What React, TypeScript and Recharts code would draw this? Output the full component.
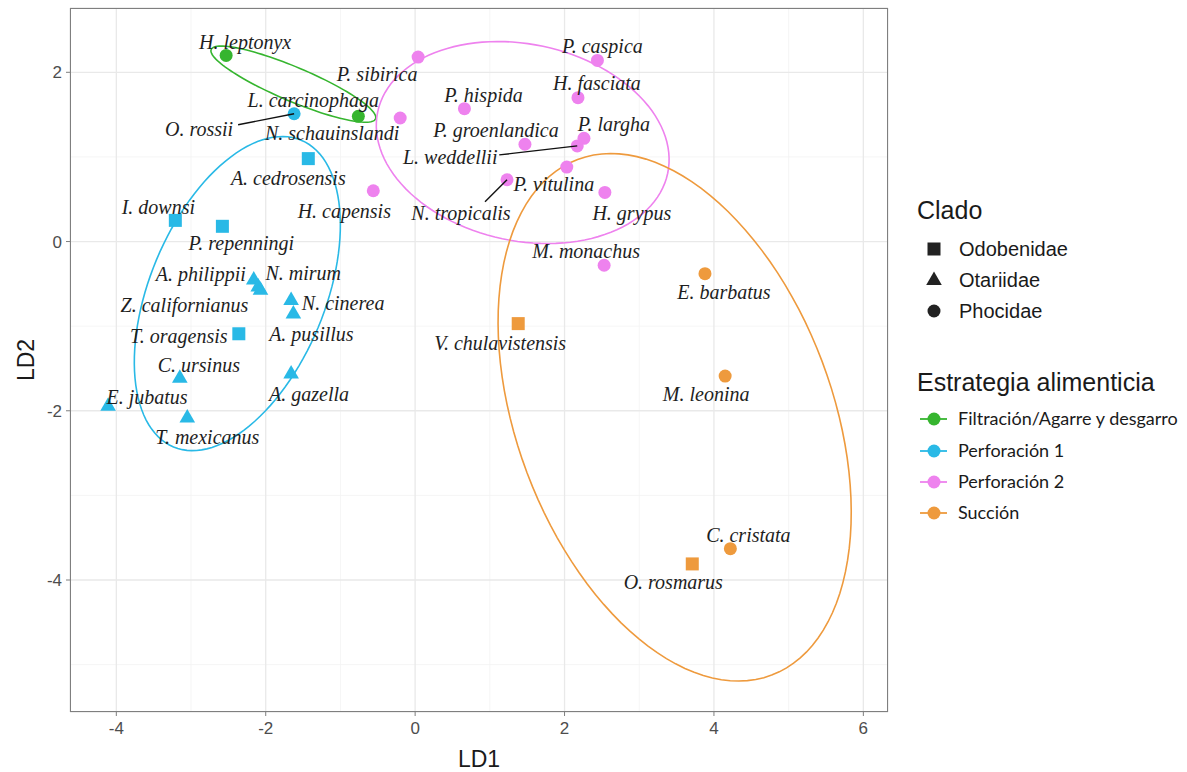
import { ScatterChart, Scatter, XAxis, YAxis, CartesianGrid } from 'recharts';

type Clado = 'Odobenidae' | 'Otariidae' | 'Phocidae';

interface Especie {
  name: string,
  ld1: number,
  ld2: number,
  clado: Clado
}

// Puntuaciones discriminantes por estrategia alimenticia
const filtracion: Especie[] = [
  { name: 'H. leptonyx', ld1: -2.53, ld2: 2.2, clado: 'Phocidae' },
  { name: 'L. carcinophaga', ld1: -0.76, ld2: 1.48, clado: 'Phocidae' },
];

const perforacion1: Especie[] = [
  { name: 'O. rossii', ld1: -1.62, ld2: 1.51, clado: 'Phocidae' },
  { name: 'A. cedrosensis', ld1: -1.43, ld2: 0.98, clado: 'Odobenidae' },
  { name: 'I. downsi', ld1: -3.21, ld2: 0.25, clado: 'Odobenidae' },
  { name: 'P. repenningi', ld1: -2.58, ld2: 0.18, clado: 'Odobenidae' },
  { name: 'A. philippii', ld1: -2.16, ld2: -0.45, clado: 'Otariidae' },
  { name: 'N. mirum', ld1: -2.1, ld2: -0.53, clado: 'Otariidae' },
  { name: 'Z. californianus', ld1: -2.07, ld2: -0.57, clado: 'Otariidae' },
  { name: 'N. cinerea', ld1: -1.66, ld2: -0.69, clado: 'Otariidae' },
  { name: 'A. pusillus', ld1: -1.63, ld2: -0.85, clado: 'Otariidae' },
  { name: 'T. oragensis', ld1: -2.36, ld2: -1.09, clado: 'Odobenidae' },
  { name: 'C. ursinus', ld1: -3.15, ld2: -1.61, clado: 'Otariidae' },
  { name: 'A. gazella', ld1: -1.66, ld2: -1.56, clado: 'Otariidae' },
  { name: 'E. jubatus', ld1: -4.11, ld2: -1.94, clado: 'Otariidae' },
  { name: 'T. mexicanus', ld1: -3.05, ld2: -2.08, clado: 'Otariidae' },
];

const perforacion2: Especie[] = [
  { name: 'P. sibirica', ld1: 0.04, ld2: 2.18, clado: 'Phocidae' },
  { name: 'P. caspica', ld1: 2.44, ld2: 2.14, clado: 'Phocidae' },
  { name: 'H. fasciata', ld1: 2.18, ld2: 1.7, clado: 'Phocidae' },
  { name: 'P. hispida', ld1: 0.66, ld2: 1.57, clado: 'Phocidae' },
  { name: 'N. schauinslandi', ld1: -0.2, ld2: 1.46, clado: 'Phocidae' },
  { name: 'P. groenlandica', ld1: 1.47, ld2: 1.15, clado: 'Phocidae' },
  { name: 'P. largha', ld1: 2.26, ld2: 1.22, clado: 'Phocidae' },
  { name: 'L. weddellii', ld1: 2.17, ld2: 1.13, clado: 'Phocidae' },
  { name: 'P. vitulina', ld1: 2.03, ld2: 0.88, clado: 'Phocidae' },
  { name: 'N. tropicalis', ld1: 1.23, ld2: 0.73, clado: 'Phocidae' },
  { name: 'H. grypus', ld1: 2.54, ld2: 0.58, clado: 'Phocidae' },
  { name: 'H. capensis', ld1: -0.56, ld2: 0.6, clado: 'Phocidae' },
  { name: 'M. monachus', ld1: 2.53, ld2: -0.28, clado: 'Phocidae' },
];

const succion: Especie[] = [
  { name: 'E. barbatus', ld1: 3.88, ld2: -0.38, clado: 'Phocidae' },
  { name: 'V. chulavistensis', ld1: 1.38, ld2: -0.97, clado: 'Odobenidae' },
  { name: 'M. leonina', ld1: 4.15, ld2: -1.59, clado: 'Phocidae' },
  { name: 'C. cristata', ld1: 4.22, ld2: -3.63, clado: 'Phocidae' },
  { name: 'O. rosmarus', ld1: 3.71, ld2: -3.81, clado: 'Odobenidae' },
];

// Elipses de confianza: centro y semiejes conjugados (unidades LD1, LD2)
const elipseCentros = [[-1.63, 1.86], [-2.38, -0.615], [1.44, 1.17], [3.474, -2.077]];
const elipseU = [[1.1, -0.41], [0.854, 1.813], [1.941, -0.363], [1.299, -3.047]];
const elipseV = [[-0.088, -0.186], [1.083, -0.398], [-0.272, -1.137], [-1.975, -0.658]];

const estrategias = ['Filtración/Agarre y desgarro', 'Perforación 1', 'Perforación 2', 'Succión'];
const clados: Clado[] = ['Odobenidae', 'Otariidae', 'Phocidae'];
const grupos = [filtracion, perforacion1, perforacion2, succion];
const colores = ['#36b52f', '#29b9e6', '#ee82ee', '#ee9a3d'];

// desplazamiento de cada etiqueta respecto a su punto (px)
const etiquetas: Record<string, [number, number]> = {
  'H. leptonyx': [19, -13],
  'L. carcinophaga': [-45, -16],
  'P. sibirica': [-41, 17],
  'O. rossii': [-95, 15],
  'N. schauinslandi': [-68, 15],
  'A. cedrosensis': [-20, 19],
  'H. capensis': [-29, 20],
  'I. downsi': [-17, -13],
  'P. repenningi': [19, 17],
  'A. philippii': [-53, -6],
  'N. mirum': [45, -13],
  'Z. californianus': [-76, 15],
  'N. cinerea': [52, 3],
  'T. oragensis': [-60, 2],
  'A. pusillus': [18, 21],
  'C. ursinus': [19, -13],
  'A. gazella': [18, 20],
  'E. jubatus': [39, -9],
  'T. mexicanus': [20, 19],
  'P. caspica': [5, -14],
  'H. fasciata': [19, -15],
  'P. hispida': [19, -14],
  'P. groenlandica': [-29, -14],
  'P. largha': [30, -14],
  'L. weddellii': [-127, 11],
  'P. vitulina': [-13, 17],
  'N. tropicalis': [-46, 33],
  'H. grypus': [27, 21],
  'M. monachus': [-18, -14],
  'E. barbatus': [19, 18],
  'V. chulavistensis': [-18, 19],
  'M. leonina': [-19, 18],
  'C. cristata': [18, -14],
  'O. rosmarus': [-19, 18],
};

// segmentos que unen etiquetas alejadas con su punto
const conectores: Record<string, [number, number]> = {
  'O. rossii': [-56, 11],
  'L. weddellii': [-78, 9],
  'N. tropicalis': [-22, 22],
};

const contorno = (i: number) => {
  const puntos = [];
  for (let k = 0; k <= 120; k++) {
    const t = (k / 120) * Math.PI * 2;
    puntos.push({
      ld1: elipseCentros[i][0] + elipseU[i][0] * Math.cos(t) + elipseV[i][0] * Math.sin(t),
      ld2: elipseCentros[i][1] + elipseU[i][1] * Math.cos(t) + elipseV[i][1] * Math.sin(t),
    });
  }
  return puntos;
};

const Simbolo = ({ cx, cy, clado, color }) => {
  if (clado === 'Odobenidae') {
    return <rect x={cx - 6.5} y={cy - 6.5} width={13} height={13} fill={color} />;
  }
  if (clado === 'Otariidae') {
    return <polygon points={`${cx},${cy - 8.5} ${cx - 7.8},${cy + 5} ${cx + 7.8},${cy + 5}`} fill={color} />;
  }
  return <circle cx={cx} cy={cy} r={6.5} fill={color} />;
};

const Etiqueta = (props) => {
  const { cx, cy, payload } = props;
  const [dx, dy] = etiquetas[payload.name] ?? [0, -14];
  const seg = conectores[payload.name];
  return (
    <g>
      {seg && <line x1={cx} y1={cy} x2={cx + seg[0]} y2={cy + seg[1]} stroke="#111" strokeWidth={1.4} />}
      <text
        x={cx + dx}
        y={cy + dy + 7}
        textAnchor="middle"
        fontFamily="'Liberation Serif', 'Times New Roman', serif"
        fontStyle="italic"
        fontSize={20}
        fill="#1e1e1e"
      >
        {payload.name}
      </text>
    </g>
  );
};

const sinForma = () => <g />;

const sans = "'Liberation Sans', Arial, sans-serif";
const tickStyle = { fill: '#4d4d4d', fontSize: 17, fontFamily: sans };

const App = () => {
  const todas = ([] as Especie[]).concat(...grupos);

  return (
    <div style={{ position: 'absolute', left: 0, top: 0, width: 1187, height: 772, background: '#fff' }}>
      <ScatterChart width={1187} height={772} margin={{ top: 8, right: 299, bottom: 0, left: 0 }}>
        <CartesianGrid
          stroke="#f3f3f3"
          strokeWidth={0.8}
          horizontalValues={[-5, -3, -1, 1]}
          verticalValues={[-3, -1, 1, 3, 5]}
        />
        <CartesianGrid stroke="#e9e9e9" strokeWidth={1.3} />
        <XAxis
          type="number"
          dataKey="ld1"
          domain={[-4.62, 6.33]}
          ticks={[-4, -2, 0, 2, 4, 6]}
          allowDataOverflow
          axisLine={false}
          tickLine={{ stroke: '#7f7f7f' }}
          tickSize={4}
          tickMargin={6}
          height={60}
          tick={tickStyle}
        />
        <YAxis
          type="number"
          dataKey="ld2"
          domain={[-5.56, 2.76]}
          ticks={[-4, -2, 0, 2]}
          allowDataOverflow
          axisLine={false}
          tickLine={{ stroke: '#7f7f7f' }}
          tickSize={4}
          tickMargin={4}
          width={70}
          tick={tickStyle}
        />
        {colores.map((c, i) => (
          <Scatter
            key={'elipse-' + i}
            data={contorno(i)}
            line={{ stroke: c, strokeWidth: 1.6 }}
            lineType="joint"
            shape={sinForma}
            isAnimationActive={false}
          />
        ))}
        {grupos.map((g, i) => (
          <Scatter
            key={'grupo-' + i}
            name={estrategias[i]}
            data={g}
            shape={(p) => <Simbolo cx={p.cx} cy={p.cy} clado={p.payload.clado} color={colores[i]} />}
            isAnimationActive={false}
          />
        ))}
        <Scatter data={todas} shape={Etiqueta} isAnimationActive={false} />
      </ScatterChart>

      {/* borde del panel */}
      <div style={{ position: 'absolute', left: 70, top: 8, width: 818, height: 704, border: '1.4px solid #7f7f7f', boxSizing: 'border-box', pointerEvents: 'none' }} />

      <div style={{ position: 'absolute', left: 379, width: 200, top: 746, textAlign: 'center', fontFamily: sans, fontSize: 23, color: '#1a1a1a', lineHeight: '26px' }}>LD1</div>
      <div style={{ position: 'absolute', left: 26, top: 360, transform: 'translate(-50%, -50%) rotate(-90deg)', fontFamily: sans, fontSize: 23, color: '#1a1a1a', lineHeight: '26px' }}>LD2</div>

      <svg style={{ position: 'absolute', left: 0, top: 0, pointerEvents: 'none' }} width={1187} height={772}>
        <text x={917} y={219} fontFamily={sans} fontSize={25} fill="#1a1a1a">Clado</text>
        {clados.map((c, i) => {
          const y = [249, 280, 311][i];
          return (
            <g key={c}>
              <Simbolo cx={934} cy={y} clado={c} color="#222" />
              <text x={959} y={y + 7} fontFamily={sans} fontSize={20} fill="#1a1a1a">{c}</text>
            </g>
          );
        })}
        <text x={917} y={391} fontFamily={sans} fontSize={25} fill="#1a1a1a">Estrategia alimenticia</text>
        {estrategias.map((e, i) => {
          const y = [419, 451, 482, 513][i];
          return (
            <g key={e}>
              <line x1={920} x2={947} y1={y} y2={y} stroke={colores[i]} strokeWidth={1.8} />
              <circle cx={934} cy={y} r={6.5} fill={colores[i]} />
              <text x={958} y={y + 6} fontFamily="Lato, sans-serif" fontSize={18} fill="#1a1a1a">{e}</text>
            </g>
          );
        })}
      </svg>
    </div>
  );
};

export default App;
